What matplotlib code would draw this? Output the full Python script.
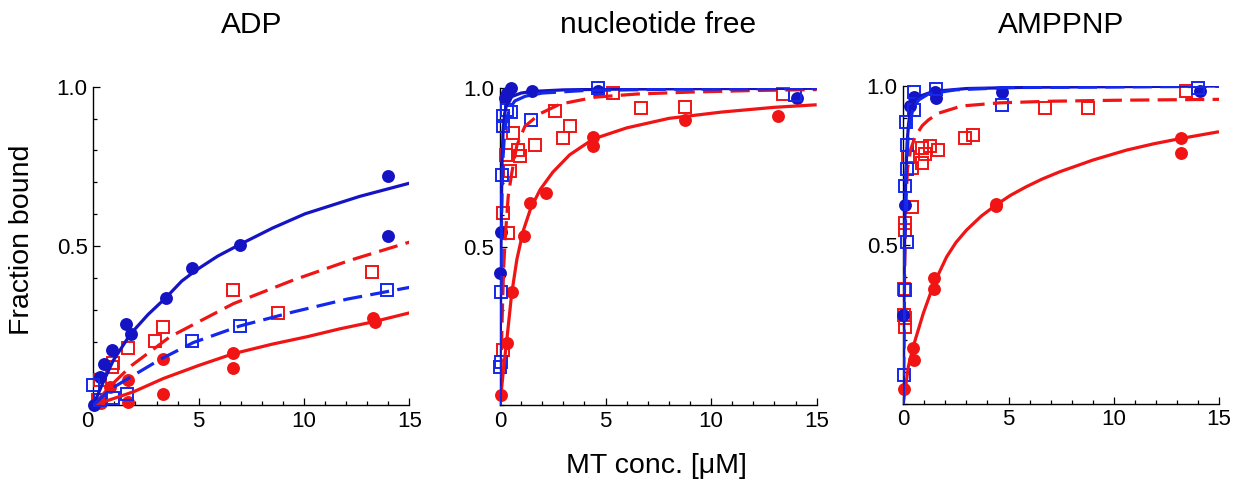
import matplotlib
matplotlib.use("Agg")
import matplotlib.pyplot as plt
from matplotlib.ticker import MultipleLocator, FixedLocator

plt.rcParams['font.family'] = ['Liberation Sans', 'DejaVu Sans']

# ---------------- titles / labels ----------------
panel_titles = ["ADP", "nucleotide free", "AMPPNP"]
ylabel_text = "Fraction bound"
xlabel_text = "MT conc. [μM]"
xtick_values = [0, 5, 10, 15]
xtick_labels = ["0", "5", "10", "15"]
ytick_values = [0.5, 1.0]
ytick_labels = ["0.5", "1.0"]

# ---------------- Panel 1: ADP ----------------
adp_bc_x = [14.0, 14.0, 6.96, 4.7, 3.45, 1.55, 1.77, 0.87, 0.5, 0.3, 0.05]
adp_bc_y = [0.72, 0.53, 0.503, 0.432, 0.336, 0.255, 0.224, 0.174, 0.13, 0.09, 0.0]
adp_rc_x = [13.29, 13.35, 6.64, 6.62, 3.3, 3.3, 1.63, 1.63, 0.79, 0.38]
adp_rc_y = [0.273, 0.262, 0.163, 0.116, 0.145, 0.035, 0.078, 0.011, 0.058, 0.008]
adp_rs_x = [13.21, 6.62, 8.78, 3.32, 2.93, 1.63, 0.9, 0.95, 0.3, 0.24]
adp_rs_y = [0.417, 0.362, 0.289, 0.247, 0.202, 0.179, 0.121, 0.132, 0.079, 0.017]
adp_bs_x = [13.92, 6.96, 4.7, 1.6, 0.93, 0.34, 0.0]
adp_bs_y = [0.362, 0.25, 0.201, 0.034, 0.022, 0.017, 0.064]

adp_bfit_x = [0, 0.47, 0.95, 1.77, 2.6, 3.45, 4.2, 4.9, 5.9, 6.96, 8.5, 10.05, 12.66, 15.0]
adp_bfit_y = [0, 0.073, 0.141, 0.224, 0.285, 0.338, 0.39, 0.425, 0.468, 0.505, 0.556, 0.601, 0.656, 0.697]
adp_bdfit_x = [0, 0.8, 1.93, 3.2, 4.75, 6.96, 9.49, 12.03, 15.0]
adp_bdfit_y = [0, 0.05, 0.095, 0.145, 0.197, 0.249, 0.293, 0.333, 0.37]
adp_rfit_x = [0, 1.0, 1.93, 3.32, 5.0, 6.65, 8.5, 10.13, 11.7, 13.29, 15.0]
adp_rfit_y = [0, 0.022, 0.043, 0.084, 0.125, 0.162, 0.192, 0.215, 0.24, 0.262, 0.29]
adp_rdfit_x = [0, 0.8, 1.82, 3.64, 6.65, 9.49, 12.18, 15.0]
adp_rdfit_y = [0, 0.06, 0.125, 0.215, 0.319, 0.393, 0.455, 0.512]

# ---------------- Panel 2: nucleotide free ----------------
nf_bc_x = [0.0, 0.03, 0.24, 0.35, 0.5, 1.5, 4.66, 14.05]
nf_bc_y = [0.416, 0.547, 0.968, 0.984, 1.0, 0.99, 0.993, 0.968]
nf_rc_x = [0.04, 0.35, 0.58, 1.14, 1.42, 2.18, 4.42, 4.42, 8.76, 13.18]
nf_rc_y = [0.032, 0.197, 0.356, 0.534, 0.639, 0.668, 0.845, 0.818, 0.9, 0.913]
nf_rs_x = [0.14, 0.14, 0.38, 0.3, 0.46, 0.62, 0.85, 0.93, 1.64, 2.59, 2.98, 3.32, 5.34, 6.66, 8.76, 13.42]
nf_rs_y = [0.174, 0.606, 0.543, 0.79, 0.738, 0.859, 0.806, 0.785, 0.822, 0.927, 0.843, 0.881, 0.984, 0.937, 0.942, 0.981]
nf_bs_x = [0.0, 0.03, 0.06, 0.08, 0.14, 0.14, 0.32, 0.54, 1.45, 4.66, 13.97]
nf_bs_y = [0.121, 0.135, 0.358, 0.727, 0.88, 0.912, 0.932, 0.926, 0.9, 1.0, 0.979]

nf_bfit_x = [0, 0.02, 0.04, 0.07, 0.1, 0.15, 0.22, 0.3, 0.45, 0.6, 1.0, 1.5, 3.0, 5.0, 10.0, 15.0]
nf_bfit_y = [0, 0.25, 0.45, 0.65, 0.78, 0.87, 0.92, 0.945, 0.965, 0.975, 0.985, 0.99, 0.995, 0.997, 0.999, 1.0]
nf_bdfit_x = [0, 0.03, 0.06, 0.1, 0.15, 0.22, 0.3, 0.45, 0.7, 1.2, 2.0, 4.0, 8.0, 15.0]
nf_bdfit_y = [0, 0.3, 0.52, 0.68, 0.79, 0.86, 0.9, 0.935, 0.96, 0.975, 0.985, 0.993, 0.997, 0.999]
nf_rfit_x = [0, 0.16, 0.33, 0.55, 0.8, 1.1, 1.45, 1.9, 2.5, 3.3, 4.42, 6.0, 8.0, 10.5, 13.0, 15.0]
nf_rfit_y = [0, 0.11, 0.21, 0.35, 0.46, 0.55, 0.62, 0.68, 0.735, 0.79, 0.84, 0.875, 0.905, 0.925, 0.94, 0.948]
nf_rdfit_x = [0, 0.05, 0.1, 0.17, 0.25, 0.39, 0.55, 0.8, 1.18, 1.9, 2.84, 4.5, 6.5, 9.0, 12.0, 15.0]
nf_rdfit_y = [0, 0.12, 0.27, 0.43, 0.53, 0.66, 0.73, 0.82, 0.88, 0.92, 0.95, 0.972, 0.982, 0.988, 0.993, 0.996]

# ---------------- Panel 3: AMPPNP ----------------
amp_bc_x = [0.0, 0.08, 0.32, 0.5, 1.5, 1.55, 4.67, 14.08]
amp_bc_y = [0.28, 0.625, 0.938, 0.965, 0.98, 0.962, 0.982, 0.985]
amp_rc_x = [0.05, 0.48, 0.5, 1.48, 1.48, 4.4, 4.4, 13.21, 13.21]
amp_rc_y = [0.047, 0.176, 0.137, 0.394, 0.362, 0.628, 0.622, 0.835, 0.79]
amp_rs_x = [0.08, 0.08, 0.05, 0.05, 0.08, 0.08, 0.4, 0.4, 0.24, 0.87, 0.87, 1.03, 1.27, 1.66, 2.93, 3.33, 6.72, 8.78, 13.45]
amp_rs_y = [0.242, 0.268, 0.28, 0.36, 0.545, 0.567, 0.62, 0.742, 0.777, 0.757, 0.805, 0.786, 0.81, 0.8, 0.836, 0.846, 0.93, 0.93, 0.985]
amp_bs_x = [0.03, 0.08, 0.16, 0.08, 0.16, 0.16, 0.12, 0.5, 0.5, 1.55, 4.67, 14.0]
amp_bs_y = [0.089, 0.357, 0.51, 0.685, 0.738, 0.814, 0.888, 0.925, 0.98, 0.99, 0.94, 0.993]

amp_bfit_x = [0, 0.02, 0.05, 0.08, 0.12, 0.18, 0.25, 0.32, 0.5, 0.79, 1.43, 3.0, 6.0, 15.0]
amp_bfit_y = [0, 0.2, 0.45, 0.6, 0.72, 0.82, 0.88, 0.915, 0.95, 0.968, 0.983, 0.992, 0.996, 1.0]
amp_bdfit_x = [0, 0.03, 0.06, 0.1, 0.15, 0.22, 0.3, 0.45, 0.7, 1.2, 2.5, 5.0, 15.0]
amp_bdfit_y = [0, 0.25, 0.45, 0.62, 0.74, 0.83, 0.88, 0.925, 0.955, 0.975, 0.988, 0.995, 0.999]
amp_rfit_x = [0, 0.24, 0.47, 0.95, 1.46, 2.06, 2.5, 3.0, 3.7, 4.4, 5.1, 5.85, 6.6, 7.44, 9.02, 10.6, 11.9, 13.21, 15.0]
amp_rfit_y = [0, 0.116, 0.179, 0.284, 0.378, 0.462, 0.507, 0.546, 0.59, 0.625, 0.656, 0.683, 0.707, 0.73, 0.767, 0.798, 0.818, 0.835, 0.856]
amp_rdfit_x = [0, 0.03, 0.07, 0.12, 0.2, 0.35, 0.56, 0.9, 1.19, 1.66, 2.77, 4.6, 7.0, 10.0, 15.0]
amp_rdfit_y = [0, 0.2, 0.45, 0.62, 0.74, 0.8, 0.84, 0.875, 0.893, 0.914, 0.937, 0.947, 0.952, 0.955, 0.958]

BLUE_C = '#1414c4'
BLUE_S = '#1428ec'
RED = '#f01414'

panels = [
    dict(bc=(adp_bc_x, adp_bc_y), rc=(adp_rc_x, adp_rc_y), rs=(adp_rs_x, adp_rs_y), bs=(adp_bs_x, adp_bs_y),
         bfit=(adp_bfit_x, adp_bfit_y), bdfit=(adp_bdfit_x, adp_bdfit_y),
         rfit=(adp_rfit_x, adp_rfit_y), rdfit=(adp_rdfit_x, adp_rdfit_y)),
    dict(bc=(nf_bc_x, nf_bc_y), rc=(nf_rc_x, nf_rc_y), rs=(nf_rs_x, nf_rs_y), bs=(nf_bs_x, nf_bs_y),
         bfit=(nf_bfit_x, nf_bfit_y), bdfit=(nf_bdfit_x, nf_bdfit_y),
         rfit=(nf_rfit_x, nf_rfit_y), rdfit=(nf_rdfit_x, nf_rdfit_y)),
    dict(bc=(amp_bc_x, amp_bc_y), rc=(amp_rc_x, amp_rc_y), rs=(amp_rs_x, amp_rs_y), bs=(amp_bs_x, amp_bs_y),
         bfit=(amp_bfit_x, amp_bfit_y), bdfit=(amp_bdfit_x, amp_bdfit_y),
         rfit=(amp_rfit_x, amp_rfit_y), rdfit=(amp_rdfit_x, amp_rdfit_y)),
]

W, H = 1242, 491
fig = plt.figure(figsize=(W / 100, H / 100), dpi=100)

# axes boxes in pixels: left, right, bottom(y=0), top(y=1)
boxes = [(93.3, 409.3, 405.3, 86.7), (500.0, 816.7, 405.0, 88.3), (903.3, 1219.0, 403.5, 86.0)]

LW = 2.3
DASH = (6, 2.6)

for i, (p, box) in enumerate(zip(panels, boxes)):
    l, r, b, t = box
    ax = fig.add_axes([l / W, 1 - b / H, (r - l) / W, (b - t) / H])
    ax.set_xlim(0, 15)
    ax.set_ylim(0, 1.0)
    for s in ['top', 'right']:
        ax.spines[s].set_visible(False)
    for s in ['left', 'bottom']:
        ax.spines[s].set_linewidth(1.0)
        ax.spines[s].set_zorder(1)
    ax.set_facecolor('none')

    # data markers
    ax.plot(*p['rc'], 'o', color=RED, ms=9.3, mec='none', clip_on=False, zorder=3)
    ax.plot(*p['rs'], 's', color=RED, ms=9.2, mfc='none', mew=1.4, clip_on=False, zorder=3)
    ax.plot(*p['bc'], 'o', color=BLUE_C, ms=9.3, mec='none', clip_on=False, zorder=4)
    ax.plot(*p['bs'], 's', color=BLUE_S, ms=9.2, mfc='none', mew=1.4, clip_on=False, zorder=4)

    # fitted curves
    ax.plot(*p['rfit'], '-', color=RED, lw=LW, zorder=5, solid_capstyle='butt')
    ax.plot(*p['rdfit'], '--', color=RED, lw=LW, dashes=DASH, zorder=5)
    ax.plot(*p['bfit'], '-', color=BLUE_C, lw=LW, zorder=6, solid_capstyle='butt')
    ax.plot(*p['bdfit'], '--', color=BLUE_S, lw=LW, dashes=DASH, zorder=6)

    ax.xaxis.set_major_locator(FixedLocator(xtick_values))
    ax.set_xticklabels(xtick_labels)
    ax.xaxis.set_minor_locator(MultipleLocator(1))
    ax.yaxis.set_major_locator(FixedLocator(ytick_values))
    ax.set_yticklabels(ytick_labels)
    ax.yaxis.set_minor_locator(MultipleLocator(0.1))
    ax.tick_params(which='both', direction='in', width=0.9, labelsize=16, pad=4)
    ax.tick_params(which='major', length=5)
    ax.tick_params(which='minor', length=3)
    if i == 0:
        lbl = ax.get_xticklabels()[0]
        lbl.set_ha('right')

    cx = (l + r) / 2
    fig.text(cx / W, 1 - 25 / H, panel_titles[i], ha='center', va='center', fontsize=21.5)

fig.text(656 / W, 1 - 466 / H, xlabel_text, ha='center', va='center', fontsize=20.5)
fig.text(22 / W, 1 - 240 / H, ylabel_text, ha='center', va='center', rotation=90, fontsize=20.5)

fig.savefig('out.png', dpi=100)
